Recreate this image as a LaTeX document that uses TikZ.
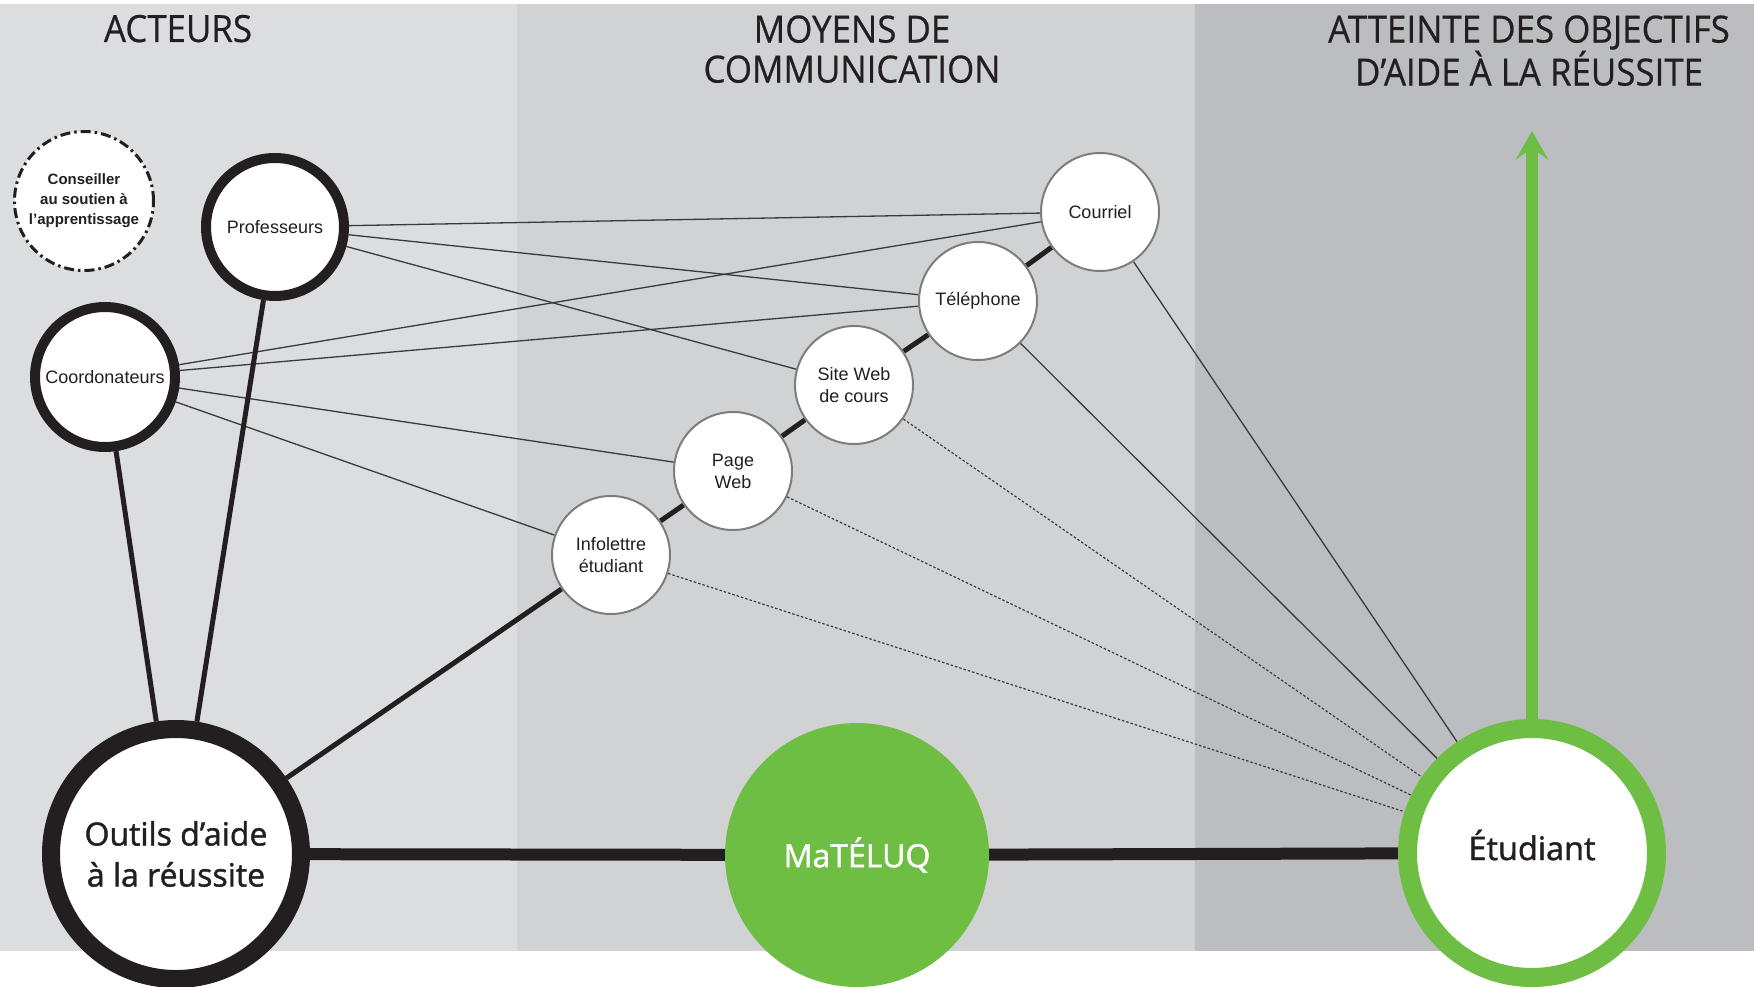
\documentclass[tikz,border=0pt]{standalone}
\usepackage{fontspec}
\setmainfont{Liberation Sans}
\newfontfamily\headfont[FakeStretch=0.93,FakeBold=0.5]{Open Sans}
\newfontfamily\bigfont[FakeBold=1.3]{Open Sans}
\usetikzlibrary{arrows.meta}
\pgfdeclarelayer{bg}
\pgfdeclarelayer{edges}
\pgfsetlayers{bg,edges,main}
\definecolor{ink}{HTML}{231F20}
\definecolor{panelA}{HTML}{DCDDDF}
\definecolor{panelB}{HTML}{D1D2D4}
\definecolor{panelC}{HTML}{BCBDC1}
\definecolor{vert}{HTML}{6FBE44}
\definecolor{thinln}{HTML}{3A3A3A}
\definecolor{rim}{HTML}{7D7D7D}
\begin{document}
\begin{tikzpicture}[x=1pt,y=-1pt,
  header/.style={font=\headfont\fontsize{37.5}{40}\selectfont, text=ink, align=center, inner sep=0pt},
  actor/.style={circle, draw=ink, line width=10pt, fill=white, inner sep=0pt, minimum size=138pt,
     text=ink, font=\fontsize{18}{22}\selectfont},
  advisor/.style={circle, draw=ink, line width=3pt, fill=white, inner sep=0pt, minimum size=139pt,
     dash pattern=on 10pt off 4pt on 2.5pt off 4pt, text=ink, align=center,
     font=\bfseries\fontsize{15}{20}\selectfont},
  media/.style={circle, draw=rim, line width=2pt, fill=white, inner sep=0pt, minimum size=118pt,
     text=ink, align=center, font=\fontsize{18}{22}\selectfont},
  bigring/.style={circle, line width=18pt, fill=white, inner sep=0pt, minimum size=250pt,
     text=ink, align=center, font=\bigfont\fontsize{32}{41}\selectfont},
  thinlink/.style={draw=thinln, line width=1.3pt},
  dotlink/.style={draw=thinln, line width=1.2pt, dash pattern=on 2.5pt off 2pt},
  chain/.style={draw=ink, line width=5pt},
  bar/.style={draw=ink, line width=12pt}
]
\useasboundingbox (0,0) rectangle (1754,987);
\begin{pgfonlayer}{bg}
  \fill[white] (0,0) rectangle (1754,987);
  \fill[panelA] (0,4) rectangle (517,951);
  \fill[panelB] (517,4) rectangle (1195,951);
  \fill[panelC] (1195,4) rectangle (1754,951);
\end{pgfonlayer}

% headers
\node[header, anchor=base] (h1) at (178,42) {ACTEURS};
\node[header, anchor=north] (h2) at (852,15.2) {MOYENS DE\\COMMUNICATION};
\node[header, anchor=north] (h3) at (1529,15.2) {ATTEINTE DES OBJECTIFS\\D’AIDE À LA RÉUSSITE};

% actors
\node[advisor] (cons) at (84,201) {Conseiller\\au soutien à\\l’apprentissage};
\node[actor] (prof) at (275,227) {Professeurs};
\node[actor, minimum size=140pt] (coord) at (105,377) {Coordonateurs};

% media
\node[media] (cour) at (1100,212) {Courriel};
\node[media] (tel) at (978,301) {Téléphone};
\node[media] (site) at (854,385) {Site Web\\de cours};
\node[media] (page) at (733,471) {Page\\Web};
\node[media] (info) at (611,555) {Infolettre\\étudiant};

% bottom row
\node[bigring, draw=ink] (outils) at (176,854) {Outils d’aide\\à la réussite};
\node[circle, fill=vert, inner sep=0pt, minimum size=264pt, text=white,
      font=\bigfont\fontsize{32}{40}\selectfont] (mat) at (857,855) {MaTÉLUQ};
\node[bigring, draw=vert, line width=19pt, minimum size=249pt, text height=14pt, text depth=0pt,
      font=\bigfont\fontsize{32.5}{40}\selectfont] (etu) at (1532,853) {Étudiant};

\coordinate (goal) at (1532,131);

\begin{pgfonlayer}{edges}
  % thin links from actors
  \draw[thinlink] (prof) -- (cour);
  \draw[thinlink] (prof) -- (tel);
  \draw[thinlink] (prof) -- (site);
  \draw[thinlink] (coord) -- (cour);
  \draw[thinlink] (coord) -- (tel);
  \draw[thinlink] (coord) -- (page);
  \draw[thinlink] (coord) -- (info);
  % links to student
  \draw[thinlink] (cour) -- (etu);
  \draw[thinlink] (tel) -- (etu);
  \draw[dotlink] (site) -- (etu);
  \draw[dotlink] (page) -- (etu);
  \draw[dotlink] (info) -- (etu);
  % thick links
  \draw[chain] (outils) -- (coord);
  \draw[chain] (outils) -- (prof);
  \draw[chain] (outils) -- (info);
  \draw[chain] (info) -- (page);
  \draw[chain] (page) -- (site);
  \draw[chain] (site) -- (tel);
  \draw[chain] (tel) -- (cour);
  \draw[bar] (outils) -- (mat);
  \draw[bar] (mat) -- (etu);
  \draw[draw=vert, line width=12pt, -{Stealth[length=29pt,width=33pt,inset=12pt,line width=0pt]}] (etu) -- (goal);
\end{pgfonlayer}
\end{tikzpicture}
\end{document}
